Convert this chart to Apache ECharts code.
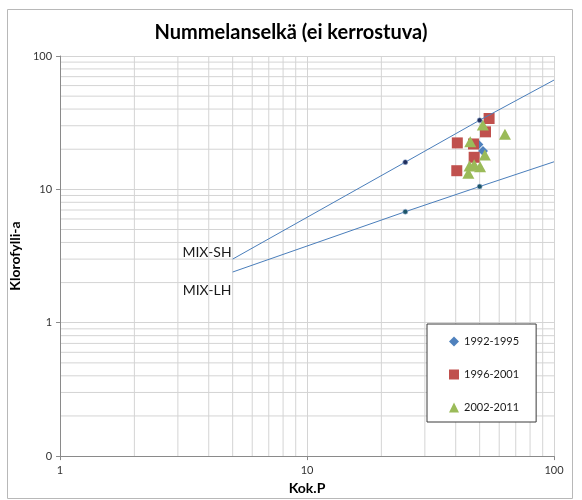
<!DOCTYPE html>
<html>
<head>
<meta charset="utf-8">
<script src="https://cdn.jsdelivr.net/npm/echarts@6/dist/echarts.min.js"></script>
<style>
  html, body { margin: 0; padding: 0; background: #fff; }
  #chart { width: 582px; height: 500px; }
</style>
</head>
<body>
<div id="chart"></div>
<script>
// Observation periods
const periods = ['1992-1995', '1996-2001', '2002-2011'];

// Total phosphorus (Kok.P) vs chlorophyll-a, one array per period
const obs1992 = [[49.4, 21.7], [51.6, 19.4]];
const obs1996 = [[54.6, 34.0], [52.8, 27.0], [40.6, 22.3], [47.2, 21.9], [47.5, 17.4], [40.4, 13.8]];
const obs2002 = [[51.5, 30.4], [63.3, 25.9], [45.8, 22.8], [52.5, 18.1], [45.5, 15.0], [47.5, 15.3], [50.2, 14.8], [45.0, 13.2]];

// Reference relationships
const mixSH = [[5, 3.0], [25, 16], [50, 33], [100, 66]];
const mixLH = [[5, 2.4], [25, 6.8], [50, 10.5], [100, 16.1]];

// Log-scale minor gridline values
const xMinor = [2, 3, 4, 5, 6, 7, 8, 9, 20, 30, 40, 50, 60, 70, 80, 90];
const yMinor = [0.2, 0.3, 0.4, 0.5, 0.6, 0.7, 0.8, 0.9, 2, 3, 4, 5, 6, 7, 8, 9, 20, 30, 40, 50, 60, 70, 80, 90];

const X_MIN = 1, X_MAX = 100, Y_MIN = 0.1, Y_MAX = 100;
const FONT = 'Lato, "Open Sans", sans-serif';
const GRID_COLOR = '#d4d4d4';

const chart = echarts.init(document.getElementById('chart'), null, { renderer: 'canvas' });

function minorGridSeries(values, vertical) {
  return {
    type: 'custom',
    silent: true,
    z: 0,
    data: values.map(v => vertical ? [v, 1] : [1, v]),
    renderItem: function (params, api) {
      const v = vertical ? api.value(0) : api.value(1);
      const p1 = vertical ? api.coord([v, Y_MIN]) : api.coord([X_MIN, v]);
      const p2 = vertical ? api.coord([v, Y_MAX]) : api.coord([X_MAX, v]);
      return {
        type: 'line',
        shape: { x1: p1[0], y1: p1[1], x2: p2[0], y2: p2[1] },
        style: { stroke: GRID_COLOR, lineWidth: 1 }
      };
    }
  };
}

function refLine(name, data, dotColor) {
  const last = data.length - 1;
  return {
    name: name,
    type: 'line',
    data: data,
    z: 5,
    showSymbol: true,
    symbol: 'circle',
    symbolSize: (val, params) => (params.dataIndex === 0 || params.dataIndex === last) ? 0 : 5,
    itemStyle: { color: dotColor, borderColor: '#9fb6d8', borderWidth: 0.6 },
    lineStyle: { color: '#4a7ebb', width: 1 },
    emphasis: { disabled: true }
  };
}

const option = {
  animation: false,
  backgroundColor: '#fff',
  title: {
    text: 'Nummelanselkä (ei kerrostuva)',
    left: 'center',
    top: 18,
    textStyle: { fontFamily: FONT, fontSize: 20, fontWeight: 'bold', color: '#000' }
  },
  grid: { left: 58, right: 28, top: 56, bottom: 43, containLabel: false },
  legend: {
    orient: 'vertical',
    left: 427,
    top: 324,
    padding: [12, 17, 9, 22],
    itemGap: 22,
    itemWidth: 10,
    itemHeight: 10,
    borderColor: '#3a3a3a',
    borderWidth: 1,
    backgroundColor: '#fff',
    textStyle: { fontFamily: FONT, fontSize: 11, color: '#1a1a1a' },
    data: [
      { name: periods[0], icon: 'diamond' },
      { name: periods[1], icon: 'rect' },
      { name: periods[2], icon: 'triangle' }
    ]
  },
  xAxis: {
    type: 'log',
    logBase: 10,
    min: X_MIN,
    max: X_MAX,
    name: 'Kok.P',
    nameLocation: 'middle',
    nameGap: 24,
    nameTextStyle: { fontFamily: FONT, fontSize: 14, fontWeight: 'bold', color: '#000' },
    axisLine: { show: true, lineStyle: { color: '#8a8a8a' } },
    axisTick: { show: true, inside: false, length: 4, lineStyle: { color: '#8a8a8a' } },
    axisLabel: { fontFamily: FONT, fontSize: 11, color: '#333', margin: 9 },
    splitLine: { show: true, lineStyle: { color: GRID_COLOR } }
  },
  yAxis: {
    type: 'log',
    logBase: 10,
    min: Y_MIN,
    max: Y_MAX,
    name: 'Klorofylli-a',
    nameLocation: 'middle',
    nameGap: 19,
    nameRotate: 90,
    nameTextStyle: { fontFamily: FONT, fontSize: 14, fontWeight: 'bold', color: '#000' },
    axisLine: { show: true, lineStyle: { color: '#8a8a8a' } },
    axisTick: { show: true, inside: false, length: 4, lineStyle: { color: '#8a8a8a' } },
    axisLabel: {
      fontFamily: FONT, fontSize: 11, color: '#333', margin: 8,
      formatter: v => String(Math.round(v))
    },
    splitLine: { show: true, lineStyle: { color: GRID_COLOR } }
  },
  graphic: [
    {
      type: 'rect',
      silent: true,
      z: -10,
      shape: { x: 7.5, y: 9.5, width: 565, height: 489 },
      style: { fill: 'none', stroke: '#b8b8b8', lineWidth: 1 }
    },
    {
      type: 'text',
      silent: true,
      style: { text: 'MIX-SH', x: 207, y: 252, align: 'center', verticalAlign: 'middle',
               font: '14px ' + FONT, fill: '#1a1a1a' }
    },
    {
      type: 'text',
      silent: true,
      style: { text: 'MIX-LH', x: 207, y: 290, align: 'center', verticalAlign: 'middle',
               font: '14px ' + FONT, fill: '#1a1a1a' }
    }
  ],
  series: [
    minorGridSeries(xMinor, true),
    minorGridSeries(yMinor, false),
    {
      name: periods[0],
      type: 'scatter',
      data: obs1992,
      symbol: 'diamond',
      symbolSize: 10,
      itemStyle: { color: '#4f81bd', opacity: 1 },
      z: 2
    },
    {
      name: periods[1],
      type: 'scatter',
      data: obs1996,
      symbol: 'rect',
      symbolSize: 11,
      itemStyle: { color: '#c0504d', opacity: 1 },
      z: 3
    },
    {
      name: periods[2],
      type: 'scatter',
      data: obs2002,
      symbol: 'triangle',
      symbolSize: [12, 11],
      itemStyle: { color: '#9bbb59', opacity: 1 },
      z: 4
    },
    refLine('MIX-SH', mixSH, '#1f2f5e'),
    refLine('MIX-LH', mixLH, '#1d5568')
  ]
};

chart.setOption(option);
</script>
</body>
</html>
